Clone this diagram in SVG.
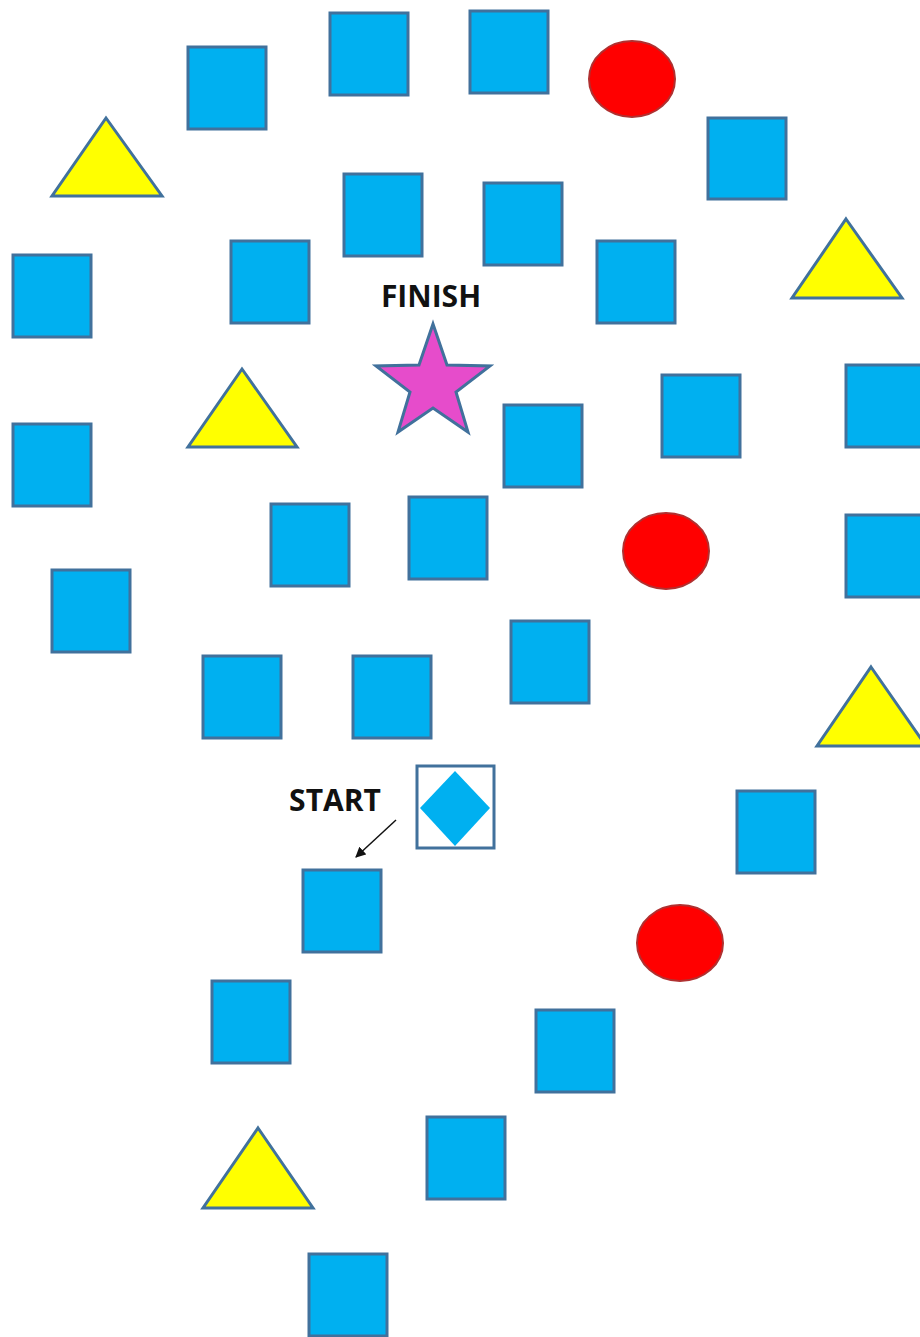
<svg xmlns="http://www.w3.org/2000/svg" width="920" height="1337" viewBox="0 0 920 1337">
<defs>
<style>
.sq{fill:#00B0F0;stroke:#41719C;stroke-width:3}
.tri{fill:#FFFF00;stroke:#41719C;stroke-width:3;stroke-linejoin:miter}
.cir{fill:#FF0000;stroke:#B03030;stroke-width:2}
.star{fill:#E64CCB;stroke:#41719C;stroke-width:3}
.lbl{font-family:"Open Sans","Liberation Sans",sans-serif;font-weight:bold;font-size:30px;fill:#111}
</style>
<marker id="ah" viewBox="0 0 10 10" refX="9" refY="5" markerWidth="7" markerHeight="7" orient="auto"><path d="M0,0 L10,5 L0,10 z" fill="#111"/></marker>
</defs>
<rect width="920" height="1337" fill="#fff"/>
<g id="squares">
<rect id="s1" class="sq" x="188" y="47" width="78" height="82"/>
<rect id="s2" class="sq" x="330" y="13" width="78" height="82"/>
<rect id="s3" class="sq" x="470" y="11" width="78" height="82"/>
<rect id="s4" class="sq" x="708" y="118" width="78" height="81"/>
<rect id="s5" class="sq" x="344" y="174" width="78" height="82"/>
<rect id="s6" class="sq" x="484" y="183" width="78" height="82"/>
<rect id="s7" class="sq" x="13" y="255" width="78" height="82"/>
<rect id="s8" class="sq" x="231" y="241" width="78" height="82"/>
<rect id="s9" class="sq" x="597" y="241" width="78" height="82"/>
<rect id="s10" class="sq" x="13" y="424" width="78" height="82"/>
<rect id="s11" class="sq" x="504" y="405" width="78" height="82"/>
<rect id="s12" class="sq" x="662" y="375" width="78" height="82"/>
<rect id="s13" class="sq" x="846" y="365" width="78" height="82"/>
<rect id="s14" class="sq" x="271" y="504" width="78" height="82"/>
<rect id="s15" class="sq" x="409" y="497" width="78" height="82"/>
<rect id="s16" class="sq" x="846" y="515" width="78" height="82"/>
<rect id="s17" class="sq" x="52" y="570" width="78" height="82"/>
<rect id="s18" class="sq" x="203" y="656" width="78" height="82"/>
<rect id="s19" class="sq" x="353" y="656" width="78" height="82"/>
<rect id="s20" class="sq" x="511" y="621" width="78" height="82"/>
<rect id="s21" class="sq" x="737" y="791" width="78" height="82"/>
<rect id="s22" class="sq" x="303" y="870" width="78" height="82"/>
<rect id="s23" class="sq" x="212" y="981" width="78" height="82"/>
<rect id="s24" class="sq" x="536" y="1010" width="78" height="82"/>
<rect id="s25" class="sq" x="427" y="1117" width="78" height="82"/>
<rect id="s26" class="sq" x="309" y="1254" width="78" height="82"/>
</g>
<g id="triangles">
<polygon id="t1" class="tri" points="106,118 162,196 52,196"/>
<polygon id="t2" class="tri" points="846,219 902,298 792,298"/>
<polygon id="t3" class="tri" points="242,369 297,447 188,447"/>
<polygon id="t4" class="tri" points="871,667 926,746 817,746"/>
<polygon id="t5" class="tri" points="258,1128 313,1208 203,1208"/>
</g>
<g id="circles">
<ellipse id="c1" class="cir" cx="632" cy="79" rx="43" ry="38"/>
<ellipse id="c2" class="cir" cx="666" cy="551" rx="43" ry="38"/>
<ellipse id="c3" class="cir" cx="680" cy="943" rx="43" ry="38"/>
</g>
<g id="finish">
<polygon class="star" points="433,324 447,365 490,366 456,392 468,432 433,408 398,432 410,392 376,366 419,365"/>
<text class="lbl" x="431" y="307" text-anchor="middle">FINISH</text>
</g>
<g id="start">
<rect x="417" y="766" width="77" height="82" fill="#fff" stroke="#41719C" stroke-width="3"/>
<polygon points="455,771 490,808 455,846 420,808" fill="#00B0F0"/>
<text class="lbl" x="335" y="811" text-anchor="middle">START</text>
</g>
<g id="connectors">
<line x1="396" y1="820" x2="356" y2="857" stroke="#111" stroke-width="1.5" marker-end="url(#ah)"/>
</g>
</svg>
